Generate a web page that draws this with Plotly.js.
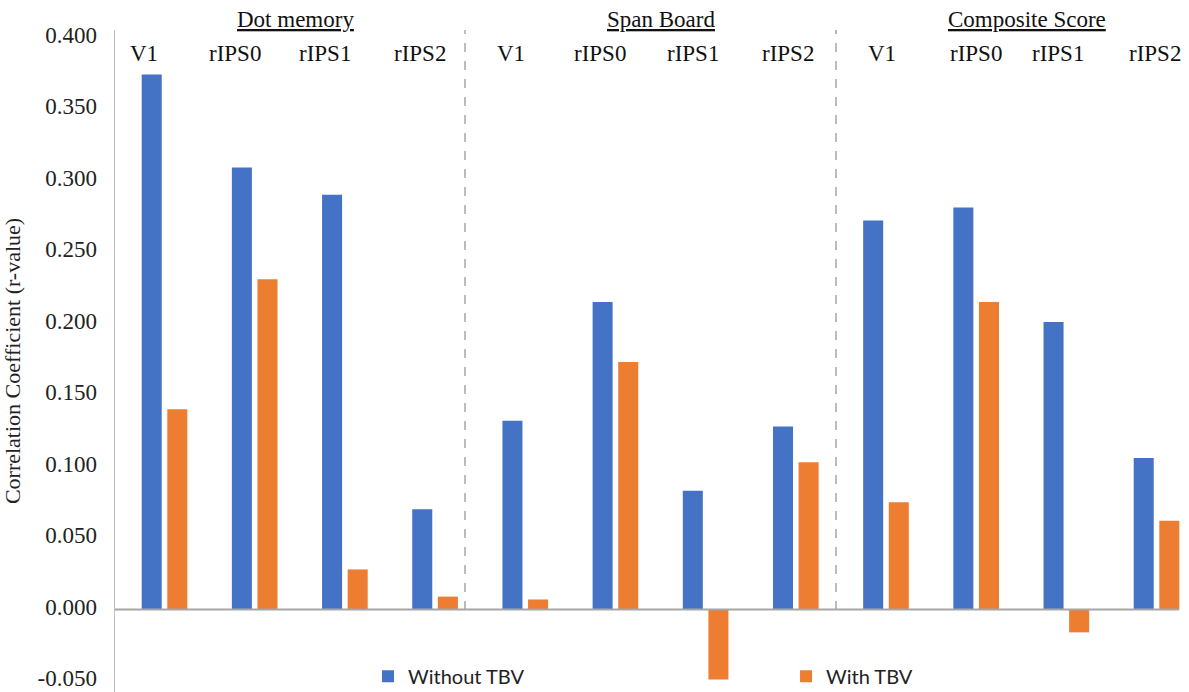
<!DOCTYPE html>
<html>
<head>
<meta charset="utf-8">
<script src="https://cdn.plot.ly/plotly-3.0.1.min.js"></script>
<style>html,body{margin:0;padding:0;background:#fff;}#chart{width:1189px;height:692px;}</style>
</head>
<body>
<div id="chart"></div>
<script>
// ---- data ----
var groups = ["Dot memory", "Span Board", "Composite Score"];
var regions = ["V1", "rIPS0", "rIPS1", "rIPS2"];
var categories = [
  "Dot memory|V1", "Dot memory|rIPS0", "Dot memory|rIPS1", "Dot memory|rIPS2",
  "Span Board|V1", "Span Board|rIPS0", "Span Board|rIPS1", "Span Board|rIPS2",
  "Composite Score|V1", "Composite Score|rIPS0", "Composite Score|rIPS1", "Composite Score|rIPS2"
];
var withoutTBV = [0.374, 0.309, 0.290, 0.070, 0.132, 0.215, 0.083, 0.128, 0.272, 0.281, 0.201, 0.106];
var withTBV    = [0.140, 0.231, 0.028, 0.009, 0.007, 0.173, -0.049, 0.103, 0.075, 0.215, -0.016, 0.062];
var yTickVals = [-0.05, 0, 0.05, 0.1, 0.15, 0.2, 0.25, 0.3, 0.35, 0.4];
var yTickText = ["-0.050", "0.000", "0.050", "0.100", "0.150", "0.200", "0.250", "0.300", "0.350", "0.400"];

// ---- layout tweaks (positions only) ----
var labelShift = [-21, -20, -20, -15, -14, -15, -13, -8, -4, 0, -8, -2];
var headerShift = [-4, 0, 6];
var serif = "Times New Roman";
var sans = "Lato";

var xIdx = categories.map(function (c, i) { return i; });

var traces = [
  {type: "bar", name: "Without TBV", x: xIdx, y: withoutTBV, legend: "legend",
   marker: {color: "#4472C4", line: {width: 0}}, hoverinfo: "y"},
  {type: "bar", name: "With TBV", x: xIdx, y: withTBV, legend: "legend2",
   marker: {color: "#ED7D31", line: {width: 0}}, hoverinfo: "y"}
];

var annotations = [];
categories.forEach(function (c, i) {
  annotations.push({
    x: i, xref: "x", y: 1, yref: "paper", yanchor: "middle", xanchor: "center",
    yshift: -23, xshift: labelShift[i], showarrow: false,
    text: c.split("|")[1], font: {family: serif, size: 23, color: "#111"}
  });
});
groups.forEach(function (g, k) {
  annotations.push({
    x: k * regions.length + (regions.length - 1) / 2, xref: "x", y: 1, yref: "paper",
    yanchor: "middle", xanchor: "center", yshift: 11, xshift: headerShift[k],
    showarrow: false, text: "<u>" + g + "</u>", font: {family: serif, size: 23, color: "#111"}
  });
});

var shapes = [
  {type: "line", xref: "x", yref: "paper", x0: 3.332, x1: 3.332, y0: 0.124, y1: 1,
   line: {color: "#A6A6A6", width: 1.5, dash: "dash"}},
  {type: "line", xref: "x", yref: "paper", x0: 7.446, x1: 7.446, y0: 0.124, y1: 1,
   line: {color: "#A6A6A6", width: 1.5, dash: "dash"}},
  {type: "line", xref: "x", yref: "y", x0: -0.549, x1: 11.25, y0: 0, y1: 0,
   line: {color: "#A6A6A6", width: 2}}
];

var legendFont = {family: sans, size: 20, color: "#222"};

var layout = {
  width: 1189, height: 692,
  font: {family: serif, size: 23, color: "#222"},
  margin: {l: 115, r: 0, t: 30, b: 0, pad: 0, autoexpand: false},
  paper_bgcolor: "#fff", plot_bgcolor: "#fff",
  barmode: "group", bargap: 0.432, bargroupgap: 0.218,
  showlegend: true,
  legend: {orientation: "h", x: 0.2356, xanchor: "left", y: -0.0056, yanchor: "bottom",
           bgcolor: "rgba(0,0,0,0)", font: legendFont},
  legend2: {orientation: "h", x: 0.6248, xanchor: "left", y: -0.0056, yanchor: "bottom",
           bgcolor: "rgba(0,0,0,0)", font: legendFont},
  xaxis: {range: [-0.549, 11.36], showticklabels: false, showgrid: false, zeroline: false,
          showline: false, ticks: "", fixedrange: true},
  yaxis: {range: [-0.0577, 0.4052], tickmode: "array", tickvals: yTickVals, ticktext: yTickText,
          showgrid: false, zeroline: false, showline: true, linecolor: "#BFBFBF", linewidth: 1.5,
          ticks: "", ticklabelstandoff: 12, ticklabeloverflow: "allow", ticklabelshift: -3,
          tickfont: {family: serif, size: 23, color: "#222"},
          title: {text: "Correlation Coefficient (r-value)", standoff: 12,
                  font: {family: serif, size: 22, color: "#222"}}},
  annotations: annotations,
  shapes: shapes
};

Plotly.newPlot("chart", traces, layout, {displayModeBar: false, staticPlot: true});
</script>
</body>
</html>
